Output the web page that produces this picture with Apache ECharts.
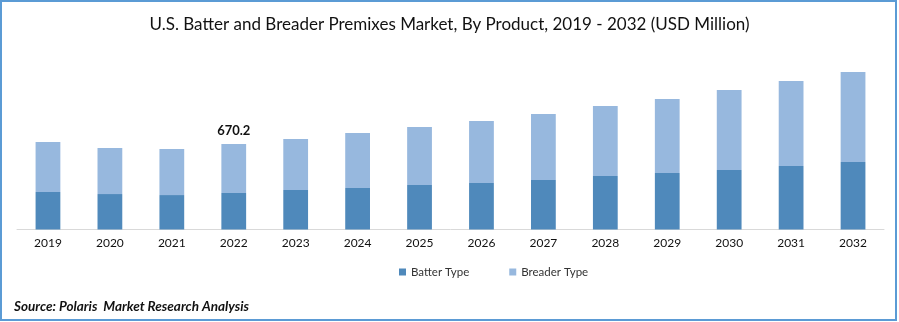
<!DOCTYPE html>
<html>
<head>
<meta charset="utf-8">
<script src="https://cdn.jsdelivr.net/npm/echarts@6/dist/echarts.min.js"></script>
<style>
html,body{margin:0;padding:0;background:#fff;}
#chart{width:899px;height:322px;}
</style>
</head>
<body>
<div id="chart"></div>
<script>
const categories = ['2019','2020','2021','2022','2023','2024','2025','2026','2027','2028','2029','2030','2031','2032'];
const batterType = [294, 278, 270, 286, 310, 325, 349, 365, 388, 419, 443, 466, 498, 529];
const breaderType = [392, 361, 361, 384.2, 399, 432, 455, 486, 517, 549, 580, 628, 666, 706];
const highlightIndex = 3;
const highlightLabel = '670.2';

const chart = echarts.init(document.getElementById('chart'));
chart.setOption({
  animation: false,
  backgroundColor: '#fff',
  title: [{
    text: 'U.S. Batter and Breader Premixes Market, By Product, 2019 - 2032 (USD Million)',
    left: 'center',
    top: 11,
    textStyle: {fontFamily: 'Lato', fontSize: 17, fontWeight: 'normal', color: '#111'}
  }, {
    text: 'Source: Polaris  Market Research Analysis',
    left: 9,
    top: 295,
    textStyle: {fontFamily: 'Lato', fontSize: 13.5, fontWeight: 'bold', fontStyle: 'italic', color: '#111'}
  }],
  legend: {
    data: ['Batter Type', 'Breader Type'],
    top: 261,
    left: 394,
    icon: 'rect',
    itemWidth: 7,
    itemHeight: 7,
    itemGap: 40,
    textStyle: {fontFamily: 'Lato', fontSize: 11.5, color: '#333'}
  },
  grid: {left: 17, right: 15, top: 60, bottom: 92.5},
  xAxis: {
    type: 'category',
    data: categories,
    axisLine: {lineStyle: {color: '#d9d9d9', width: 1}},
    axisTick: {show: false},
    axisLabel: {fontFamily: 'Lato', fontSize: 12, color: '#111', margin: 8}
  },
  yAxis: {
    type: 'value', min: 0, max: 1329, show: false,
    splitLine: {show: false}
  },
  series: [{
    name: 'Batter Type',
    type: 'bar',
    stack: 'total',
    barWidth: '40%',
    itemStyle: {color: '#4f89bb'},
    data: batterType
  }, {
    name: 'Breader Type',
    type: 'bar',
    stack: 'total',
    itemStyle: {color: '#97b8de'},
    data: breaderType,
    label: {
      show: true,
      position: 'top',
      distance: 7,
      fontFamily: 'Lato',
      fontSize: 13,
      fontWeight: 'bold',
      color: '#111',
      formatter: p => p.dataIndex === highlightIndex ? highlightLabel : ''
    }
  }],
  graphic: [{
    type: 'rect',
    shape: {x: 1, y: 1, width: 895, height: 319},
    style: {fill: 'none', stroke: '#5b9bd5', lineWidth: 2},
    silent: true
  }]
});
</script>
</body>
</html>
